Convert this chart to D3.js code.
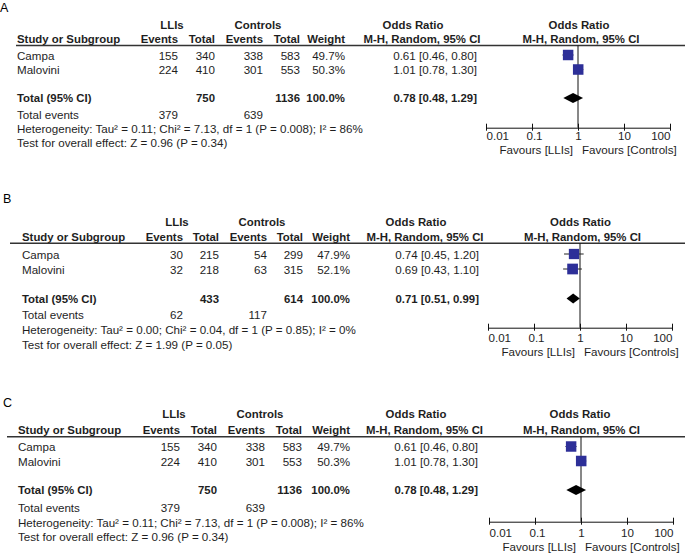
<!DOCTYPE html>
<html>
<head>
<meta charset="utf-8">
<script src="https://cdn.jsdelivr.net/npm/d3@7"></script>
<style>
  body { margin: 0; background: #fff; }
  svg { display: block; }
  text { font-family: "Liberation Sans", Arial, sans-serif; font-size: 11.6px; fill: #1e1e1e; }
  .bold { font-weight: bold; font-size: 11.4px; }
  .panel-label { font-size: 12.5px; fill: #000; }
</style>
</head>
<body>
<svg id="forest"></svg>
<script>
// ---- data ----
var panels = ['A', 'B', 'C'];
var studies = ['Campa', 'Malovini'];
var lliEvents = [[155, 224], [30, 32], [155, 224]];
var lliTotal = [[340, 410], [215, 218], [340, 410]];
var ctlEvents = [[338, 301], [54, 63], [338, 301]];
var ctlTotal = [[583, 553], [299, 315], [583, 553]];
var weights = [[49.7, 50.3], [47.9, 52.1], [49.7, 50.3]];
var orEst = [[0.61, 1.01], [0.74, 0.69], [0.61, 1.01]];
var orLow = [[0.46, 0.78], [0.45, 0.43], [0.46, 0.78]];
var orHigh = [[0.80, 1.30], [1.20, 1.10], [0.80, 1.30]];
var pooledEst = [0.78, 0.71, 0.78];
var pooledLow = [0.48, 0.51, 0.48];
var pooledHigh = [1.29, 0.99, 1.29];
var sumLliTotal = [750, 433, 750];
var sumCtlTotal = [1136, 614, 1136];
var sumLliEvents = [379, 62, 379];
var sumCtlEvents = [639, 117, 639];
var heterogeneity = [
    'Heterogeneity: Tau² = 0.11; Chi² = 7.13, df = 1 (P = 0.008); I² = 86%',
    'Heterogeneity: Tau² = 0.00; Chi² = 0.04, df = 1 (P = 0.85); I² = 0%',
    'Heterogeneity: Tau² = 0.11; Chi² = 7.13, df = 1 (P = 0.008); I² = 86%'
];
var overallEffect = [
    'Test for overall effect: Z = 0.96 (P = 0.34)',
    'Test for overall effect: Z = 1.99 (P = 0.05)',
    'Test for overall effect: Z = 0.96 (P = 0.34)'
];
var tickValues = [0.01, 0.1, 1, 10, 100];
var tickLabels = ['0.01', '0.1', '1', '10', '100'];

// ---- layout (pixel positions per panel) ----
var layout = [
    { lx: 0, ly: 12, x0: 17, lineX: 16, cols: [178, 215, 263, 300, 345, 477], orHead: 413, mhHead: 422,
      plotHead: 579, mhPlot: 581, plot: [486, 670],
      y: { group: 29, head: 43, line: 45.5, rows: [59.5, 74], total: 102, totEv: 119, het: 133, test: 147, axis: 127.7, tick: 140.5, fav: 154 } },
    { lx: 3, ly: 203, x0: 22, lineX: 10, cols: [183, 219, 267, 303, 350, 479], orHead: 416, mhHead: 425,
      plotHead: 580.5, mhPlot: 582.5, plot: [488, 672],
      y: { group: 226, head: 241, line: 243.3, rows: [258.5, 273.5], total: 302.5, totEv: 319, het: 334, test: 349, axis: 327.7, tick: 342, fav: 356 } },
    { lx: 3, ly: 407, x0: 18, lineX: 7, cols: [180, 217, 265, 302, 350, 478], orHead: 416, mhHead: 424.5,
      plotHead: 580, mhPlot: 581.5, plot: [489, 673],
      y: { group: 418, head: 433.5, line: 436.7, rows: [451, 465.5], total: 494, totEv: 512, het: 526.5, test: 540.5, axis: 521.7, tick: 537, fav: 551 } }
];

var width = 685, height = 555;
var svg = d3.select('#forest')
    .attr('width', width)
    .attr('height', height);

var f2 = d3.format('.2f');
var f1 = d3.format('.1f');
var ciText = function (e, l, h) { return f2(e) + ' [' + f2(l) + ', ' + f2(h) + ']'; };

function txt(g, x, y, s, anchor, cls) {
    return g.append('text')
        .attr('x', x)
        .attr('y', y)
        .attr('text-anchor', anchor || 'start')
        .attr('class', cls || null)
        .text(s);
}

panels.forEach(function (p, i) {
    var L = layout[i], Y = L.y, c = L.cols;
    var g = svg.append('g');

    txt(g, L.lx, L.ly, p, 'start', 'panel-label');

    // column headers
    txt(g, c[0] - 6, Y.group, 'LLIs', 'middle', 'bold');
    txt(g, c[2] - 5, Y.group, 'Controls', 'middle', 'bold');
    txt(g, L.orHead, Y.group, 'Odds Ratio', 'middle', 'bold');
    txt(g, L.plotHead, Y.group, 'Odds Ratio', 'middle', 'bold');

    txt(g, L.x0, Y.head, 'Study or Subgroup', 'start', 'bold');
    txt(g, c[0], Y.head, 'Events', 'end', 'bold');
    txt(g, c[1], Y.head, 'Total', 'end', 'bold');
    txt(g, c[2], Y.head, 'Events', 'end', 'bold');
    txt(g, c[3], Y.head, 'Total', 'end', 'bold');
    txt(g, c[4], Y.head, 'Weight', 'end', 'bold');
    txt(g, L.mhHead, Y.head, 'M-H, Random, 95% CI', 'middle', 'bold');
    txt(g, L.mhPlot, Y.head, 'M-H, Random, 95% CI', 'middle', 'bold');

    g.append('line')
        .attr('x1', L.lineX).attr('x2', width)
        .attr('y1', Y.line).attr('y2', Y.line)
        .attr('stroke', '#333').attr('stroke-width', 1.4);

    // study rows
    studies.forEach(function (s, j) {
        var y = Y.rows[j];
        txt(g, L.x0, y, s);
        txt(g, c[0], y, lliEvents[i][j], 'end');
        txt(g, c[1], y, lliTotal[i][j], 'end');
        txt(g, c[2], y, ctlEvents[i][j], 'end');
        txt(g, c[3], y, ctlTotal[i][j], 'end');
        txt(g, c[4], y, f1(weights[i][j]) + '%', 'end');
        txt(g, c[5], y, ciText(orEst[i][j], orLow[i][j], orHigh[i][j]), 'end');
    });

    // totals
    txt(g, L.x0, Y.total, 'Total (95% CI)', 'start', 'bold');
    txt(g, c[1], Y.total, sumLliTotal[i], 'end', 'bold');
    txt(g, c[3], Y.total, sumCtlTotal[i], 'end', 'bold');
    txt(g, c[4], Y.total, '100.0%', 'end', 'bold');
    txt(g, c[5], Y.total, ciText(pooledEst[i], pooledLow[i], pooledHigh[i]), 'end', 'bold');

    txt(g, L.x0, Y.totEv, 'Total events');
    txt(g, c[0], Y.totEv, sumLliEvents[i], 'end');
    txt(g, c[2], Y.totEv, sumCtlEvents[i], 'end');
    txt(g, L.x0, Y.het, heterogeneity[i]);
    txt(g, L.x0, Y.test, overallEffect[i]);

    // forest plot
    var x = d3.scaleLog().domain([0.01, 100]).range(L.plot);

    g.append('line')
        .attr('x1', x(1)).attr('x2', x(1))
        .attr('y1', Y.line).attr('y2', Y.axis)
        .attr('stroke', '#111').attr('stroke-width', 1);

    var xAxis = d3.axisBottom(x)
        .tickValues(tickValues)
        .tickFormat(function (d, k) { return tickLabels[k]; })
        .tickSizeOuter(0)
        .tickSizeInner(3);

    var ax = g.append('g')
        .attr('transform', 'translate(0,' + Y.axis + ')')
        .call(xAxis);
    ax.select('.domain').attr('stroke', '#111');
    ax.selectAll('.tick line').attr('y1', -4).attr('stroke', '#111');
    ax.selectAll('.tick text')
        .attr('y', Y.tick - Y.axis)
        .attr('dy', null)
        .style('font-size', '11.6px')
        .style('font-family', '"Liberation Sans", Arial, sans-serif')
        .attr('fill', '#1e1e1e')
        .attr('text-anchor', function (d, k) { return k === 0 ? 'start' : (k === tickValues.length - 1 ? 'end' : 'middle'); })
        .attr('x', function (d, k) { return k === 1 ? 2 : 0; });

    txt(g, x(1) - 5, Y.fav, 'Favours [LLIs]', 'end');
    txt(g, x(1) + 4, Y.fav, 'Favours [Controls]', 'start');

    var rows = studies.map(function (s, j) {
        return { est: orEst[i][j], lo: orLow[i][j], hi: orHigh[i][j], w: weights[i][j], y: Y.rows[j] - 4.5 };
    });

    g.selectAll('.ci')
        .data(rows)
        .enter()
        .append('line')
        .attr('class', 'ci')
        .attr('x1', d => x(d.lo))
        .attr('x2', d => x(d.hi))
        .attr('y1', d => d.y)
        .attr('y2', d => d.y)
        .attr('stroke', '#222')
        .attr('stroke-width', 1);

    var side = d => 10.5 * Math.sqrt(d.w / 50);
    g.selectAll('.box')
        .data(rows)
        .enter()
        .append('rect')
        .attr('class', 'box')
        .attr('x', d => x(d.est) - side(d) / 2)
        .attr('y', d => d.y - side(d) / 2)
        .attr('width', side)
        .attr('height', side)
        .attr('fill', '#2d2f98');

    var cy = Y.total - 4;
    var pts = [[x(pooledLow[i]), cy], [x(pooledEst[i]), cy - 5], [x(pooledHigh[i]), cy], [x(pooledEst[i]), cy + 5]];
    g.append('path')
        .attr('d', d3.line()(pts) + 'Z')
        .attr('fill', '#000');
});
</script>
</body>
</html>
